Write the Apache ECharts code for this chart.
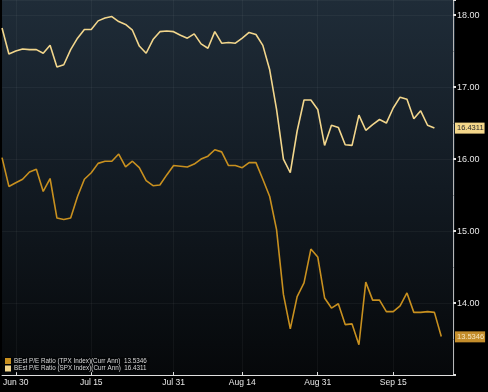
<!DOCTYPE html>
<html>
<head>
<meta charset="utf-8">
<script src="https://cdn.jsdelivr.net/npm/echarts@6/dist/echarts.min.js"></script>
<style>
html,body{margin:0;padding:0;background:#000;}
#c{width:488px;height:392px;}
</style>
</head>
<body>
<div id="c"></div>
<script>
// Weekday categories (2015)
var dates = ['Jun 26','Jun 29','Jun 30','Jul 1','Jul 2','Jul 3','Jul 6','Jul 7','Jul 8','Jul 9','Jul 10',
 'Jul 13','Jul 14','Jul 15','Jul 16','Jul 17','Jul 20','Jul 21','Jul 22','Jul 23','Jul 24',
 'Jul 27','Jul 28','Jul 29','Jul 30','Jul 31','Aug 3','Aug 4','Aug 5','Aug 6','Aug 7',
 'Aug 10','Aug 11','Aug 12','Aug 13','Aug 14','Aug 17','Aug 18','Aug 19','Aug 20','Aug 21',
 'Aug 24','Aug 25','Aug 26','Aug 27','Aug 28','Aug 31','Sep 1','Sep 2','Sep 3','Sep 4',
 'Sep 7','Sep 8','Sep 9','Sep 10','Sep 11','Sep 14','Sep 15','Sep 16','Sep 17','Sep 18',
 'Sep 21','Sep 22','Sep 23','Sep 24','Sep 25','Sep 28'];
var tickLabels = ['Jun 30','Jul 15','Jul 31','Aug 14','Aug 31','Sep 15'];

var tpxName = 'BEst P/E Ratio (TPX Index)(Curr Ann)';
var spxName = 'BEst P/E Ratio (SPX Index)(Curr Ann)';
var tpxLast = '13.5346';
var spxLast = '16.4311';

var tpx = [16.02,15.62,15.67,15.72,15.82,15.86,15.55,15.73,15.18,15.16,15.18,15.48,15.72,15.81,15.94,15.97,15.97,
 16.07,15.89,15.97,15.88,15.70,15.63,15.64,15.78,15.91,15.90,15.89,15.93,16.00,16.04,16.13,16.10,
 15.91,15.91,15.88,15.95,15.95,15.72,15.48,15.02,14.12,13.64,14.09,14.28,14.75,14.64,14.07,13.93,
 13.99,13.70,13.71,13.42,14.29,14.04,14.04,13.88,13.88,13.96,14.14,13.87,13.87,13.88,13.87,13.5346];
var spx = [17.82,17.46,17.50,17.53,17.52,17.52,17.47,17.58,17.28,17.31,17.52,17.68,17.80,17.80,17.92,17.96,17.98,
 17.91,17.87,17.79,17.57,17.47,17.66,17.77,17.78,17.77,17.72,17.68,17.74,17.60,17.54,17.77,17.61,
 17.62,17.61,17.68,17.76,17.73,17.58,17.24,16.69,16.00,15.81,16.39,16.82,16.82,16.69,16.19,16.47,
 16.44,16.20,16.19,16.61,16.40,16.48,16.55,16.50,16.71,16.86,16.83,16.56,16.67,16.47,16.4311];

var yMin = 13, yMax = 18.21, yStep = 1;

var tpxColor = '#c8901f';
var spxColor = '#f2d68c';

function isTick(idx){ return tickLabels.indexOf(dates[idx]) >= 0; }

var chart = echarts.init(document.getElementById('c'), null, {renderer:'canvas'});
var lastMap = {};
lastMap[tpxName] = tpxLast; lastMap[spxName] = spxLast;

chart.setOption({
  backgroundColor: '#000',
  animation: false,
  grid: {
    left: 0, top: 0, right: 33, bottom: 17,
    show: true, borderWidth: 0,
    backgroundColor: {type:'linear', x:0, y:0, x2:0, y2:1, colorStops:[
      {offset:0, color:'#1f2c38'},
      {offset:0.5, color:'#121a22'},
      {offset:1, color:'#06080a'}
    ]}
  },
  legend: {
    orient: 'vertical', left: 2, top: 357,
    itemWidth: 6, itemHeight: 6, itemGap: 1.5,
    padding: [1, 3],
    backgroundColor: 'rgba(0,0,0,0.35)',
    selectedMode: false,
    icon: 'rect',
    textStyle: {color:'#d8d8d8', fontSize: 6.3, fontFamily: 'Liberation Sans', padding:[0,0,0,-2]},
    formatter: function(n){ return n + '  ' + lastMap[n]; },
    data: [tpxName, spxName]
  },
  xAxis: {
    type: 'category',
    data: dates,
    boundaryGap: false,
    axisLine: {lineStyle: {color:'#e0e0e0', width:1}},
    axisTick: {show: true, inside: true, length: 3, interval: function(i){return isTick(i);}, lineStyle:{color:'#e0e0e0'}},
    axisLabel: {color:'#e6e6e6', fontSize: 8.5, fontFamily:'Liberation Sans', margin: 3,
      interval: function(i){return isTick(i);}},
    splitLine: {show: true, interval: function(i){return isTick(i);}, lineStyle:{color:'rgba(255,255,255,0.045)'}}
  },
  yAxis: {
    type: 'value',
    position: 'right',
    offset: -2,
    min: yMin, max: yMax, interval: yStep,
    axisLine: {show: true, lineStyle: {color:'#b8b8b8', width:1}},
    axisTick: {show: true, inside: false, length: 3, lineStyle:{color:'#e0e0e0', width:2}},
    minorTick: {show: true, splitNumber: 2, length: 1, lineStyle:{color:'#888'}},
    axisLabel: {color:'#e6e6e6', fontSize: 9, fontFamily:'Liberation Sans', margin: 4,
      showMinLabel: false, showMaxLabel: false,
      formatter: function(v){ return v.toFixed(2); }},
    splitLine: {show: true, lineStyle:{color:'rgba(255,255,255,0.045)'}}
  },
  series: [
    {
      name: tpxName, type: 'line', data: tpx, showSymbol: false, symbol: 'none',
      color: tpxColor,
      lineStyle: {color: tpxColor, width: 1.6},
      markLine: {
        silent: true, symbol: 'none', animation: false,
        lineStyle: {color: 'rgba(0,0,0,0)', width: 0, type: 'solid'},
        label: {show: true, position: 'end', distance: 0, formatter: tpxLast,
          backgroundColor: '#c48d2b', color: '#f6e6c0', fontSize: 7.5, fontFamily:'Liberation Sans',
          padding: [2, 1, 1, 2]},
        data: [{yAxis: tpx[tpx.length-1]}]
      }
    },
    {
      name: spxName, type: 'line', data: spx, showSymbol: false, symbol: 'none',
      color: spxColor,
      lineStyle: {color: spxColor, width: 1.6},
      markLine: {
        silent: true, symbol: 'none', animation: false,
        lineStyle: {color: 'rgba(0,0,0,0)', width: 0, type: 'solid'},
        label: {show: true, position: 'end', distance: 0, formatter: spxLast,
          backgroundColor: '#f4d78a', color: '#2a2a2a', fontSize: 7.5, fontFamily:'Liberation Sans',
          padding: [2, 1, 1, 2]},
        data: [{yAxis: spx[spx.length-1]}]
      }
    }
  ]
});
</script>
</body>
</html>
